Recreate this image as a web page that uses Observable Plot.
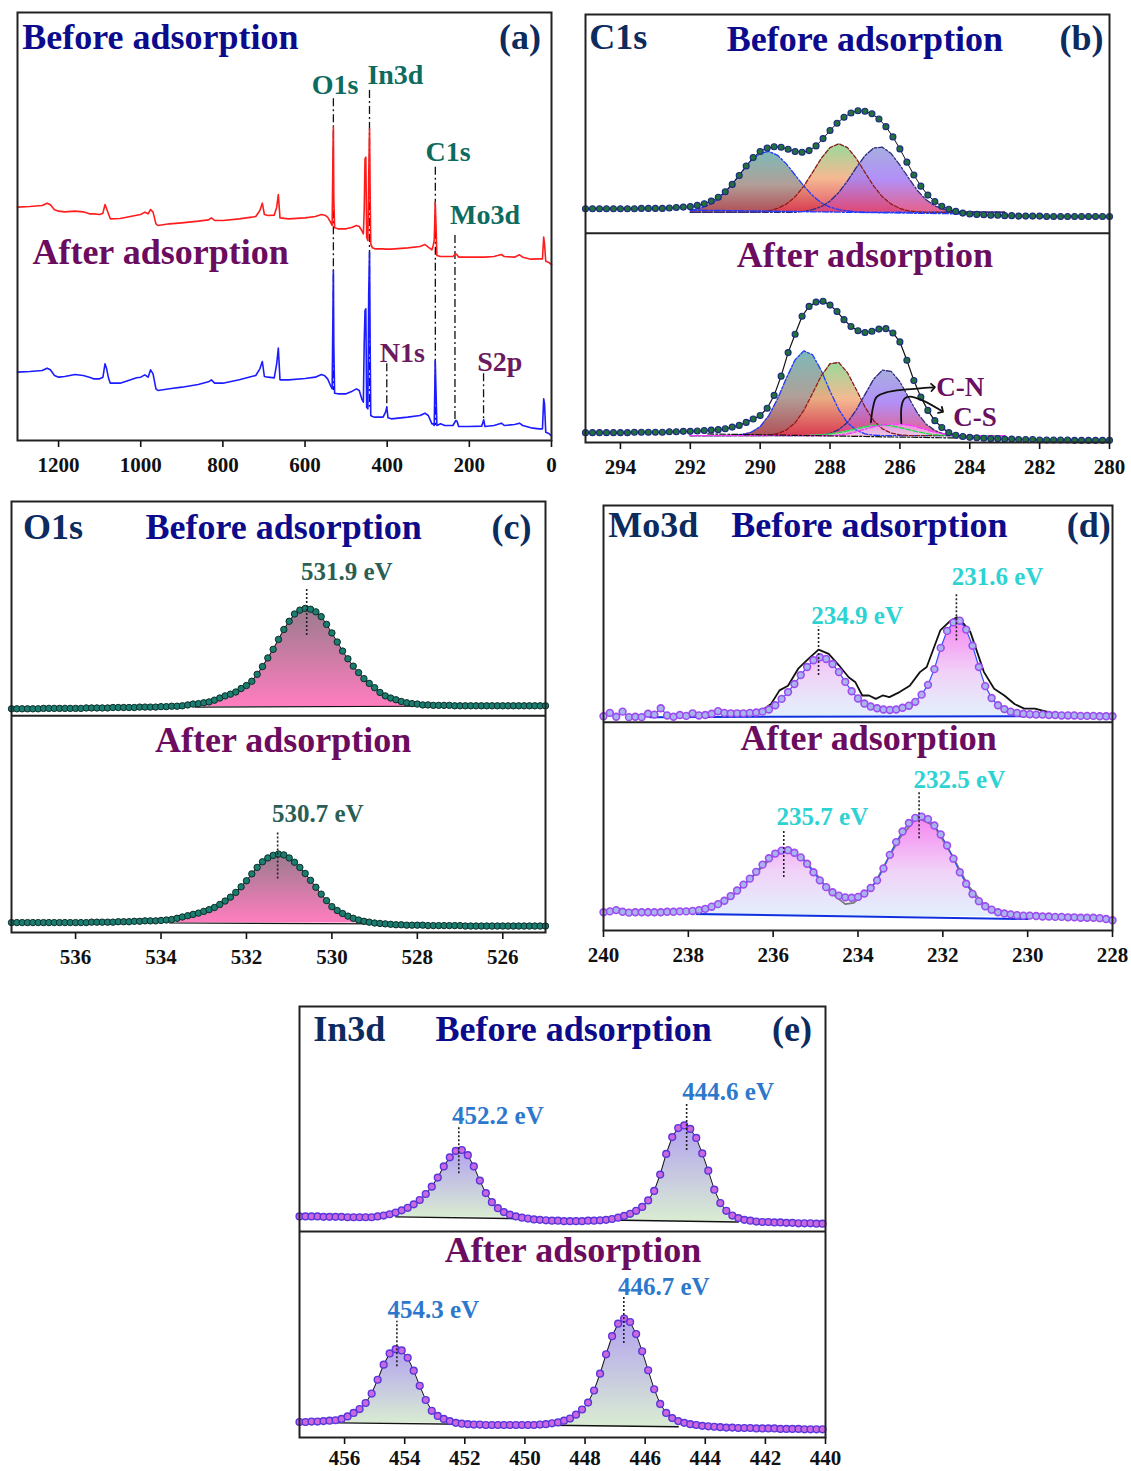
<!DOCTYPE html>
<html>
<head>
<meta charset="utf-8">
<script src="https://cdn.jsdelivr.net/npm/d3@7"></script>
<script src="https://cdn.jsdelivr.net/npm/@observablehq/plot@0.6"></script>
<style>
  html, body { margin: 0; padding: 0; background: #fff; }
  #page { position: relative; width: 1131px; height: 1471px; background: #fff; overflow: hidden; }
  #page svg { position: absolute; overflow: visible; }
</style>
</head>
<body>
<div id="page"></div>
<script>
// ================= DATA =================
// ---- (a) survey spectra (binding energy eV, intensity a.u.) ----
const surveyEV = [1300,1270,1240,1228,1220,1210,1200,1185,1160,1140,
  1125,1115,1100,1092,1087,1083,1078,1074,1050,1010,
  1000,990,982,976,970,963,958,930,900,860,
  835,828,820,800,760,730,720,710,704,699,
  690,675,669,665,661,640,600,575,560,552,
  545,538,534,532,531,530,528,520,500,485,
  475,468,462,458,456,454,452,450,447,445,
  443,441.5,440,436,430,410,404,401,398,390,
  350,320,308,300,291,288,285.5,283,281,279,
  270,260,240,233,230,226,200,170,165,162,
  140,122,115,90,78,70,50,30,22,19,
  17,14,8,0];
const surveyBefore = [70.0,70.2,70.5,71.2,70.7,69.2,68.8,68.6,68.8,68.6,
  68.0,68.0,67.8,68.2,70.8,69.5,67.8,66.5,66.6,67.6,
  67.8,68.5,68.0,69.3,68.5,65.0,64.5,65.0,65.3,65.8,
  66.2,66.8,66.0,66.0,66.5,67.0,67.2,69.0,71.2,67.8,
  67.5,67.6,70.0,73.8,66.8,66.5,66.8,67.2,67.8,67.6,
  67.0,65.5,64.5,87.0,94.0,73.0,63.8,63.5,63.5,64.0,
  64.5,64.2,63.0,62.0,69.0,84.5,85.0,61.0,60.0,79.0,
  93.5,74.0,59.0,57.8,57.5,57.5,57.4,57.4,57.4,57.4,
  57.8,58.2,58.8,58.0,57.2,58.5,60.0,71.5,64.0,55.5,
  55.2,55.2,55.2,56.0,55.7,55.0,55.0,55.0,55.0,55.0,
  55.2,55.8,55.2,55.0,55.7,55.0,54.4,54.5,54.5,61.0,
  59.0,53.8,53.5,52.8];
const surveyAfter = [20.5,20.7,21.0,21.7,21.2,19.5,19.0,19.2,19.8,19.5,
  19.0,18.5,18.5,19.0,23.0,21.5,18.5,17.2,17.2,18.8,
  19.0,19.7,19.0,21.2,20.0,15.5,15.0,15.5,16.0,16.8,
  17.6,18.2,17.2,17.2,18.2,19.2,19.5,21.5,23.7,19.2,
  19.0,18.8,23.0,27.7,18.2,18.2,18.6,19.0,19.8,19.4,
  18.5,16.5,15.5,39.0,51.0,29.0,14.2,14.0,14.0,14.8,
  15.5,15.0,12.5,11.5,29.0,39.0,39.5,10.0,9.5,44.0,
  56.5,29.0,7.5,7.2,7.0,7.0,8.5,10.0,6.8,6.5,
  7.0,7.5,8.2,7.5,5.0,5.0,4.5,24.0,14.0,4.5,
  5.0,4.5,4.5,6.0,5.8,4.2,4.2,4.3,6.2,4.2,
  4.5,5.2,4.5,4.8,5.2,4.5,3.8,3.5,3.5,12.5,
  11.0,2.5,2.2,1.4];
const surveyPeakEV = [531, 443.1, 282.8, 235, 401, 165.4];
const surveyPeakTop = [102.5, 105, 82, 61.5, 23, 20];
const surveyPeakBottom = [15, 10, 4.5, 6, 9.5, 5];
const surveyLabelsTeal = ["O1s", "In3d", "C1s", "Mo3d"];
const surveyLabelsTealEV = [527, 380, 251.8, 162];
const surveyLabelsTealI = [106.5, 109.7, 86.4, 67.5];
const surveyLabelsPurple = ["N1s", "S2p"];
const surveyLabelsPurpleEV = [363, 126];
const surveyLabelsPurpleI = [26.1, 23.5];

// ---- (b) C1s: measured points every 0.2 eV from 295 eV ----
const c1sBefore = [54.6,54.6,54.6,54.6,54.6,54.6,54.6,54.6,54.7,54.7,
  54.7,54.7,54.8,54.9,55.0,55.1,55.4,55.8,56.4,57.3,
  58.6,60.3,62.4,64.6,66.6,68.0,68.8,69.1,69.0,68.5,
  68.0,67.8,68.2,69.3,71.0,72.9,74.6,76.0,77.0,77.5,
  77.4,76.8,75.6,73.8,71.4,68.6,65.5,62.5,59.9,57.8,
  56.3,55.2,54.5,54.0,53.6,53.4,53.3,53.2,53.1,53.1,
  53.0,53.0,52.9,52.9,52.9,52.9,52.8,52.8,52.8,52.8,
  52.8,52.8,52.8,52.8,52.8,52.8];
const c1sAfter = [2.3,2.3,2.3,2.3,2.3,2.3,2.3,2.4,2.4,2.4,
  2.4,2.4,2.5,2.5,2.6,2.6,2.7,2.8,2.9,3.0,
  3.2,3.6,4.0,4.7,5.5,6.3,8.0,11.0,15.5,21.0,
  25.3,29.5,31.8,32.8,33.0,32.1,30.6,28.7,27.1,26.1,
  25.7,26.0,26.5,26.6,25.6,23.5,19.2,14.5,10.6,7.5,
  5.1,3.5,2.3,1.7,1.4,1.2,1.1,1.0,0.9,0.9,
  0.8,0.8,0.7,0.7,0.7,0.6,0.6,0.6,0.6,0.6,
  0.5,0.5,0.5,0.5,0.5,0.5];
// fitted components every 0.25 eV from 292 eV
const c1sBeforeBase = 53.8;
const c1sBTeal = [54.2,54.6,55.4,56.6,58.5,60.9,63.5,66.0,67.6,68.0,
  67.1,65.1,62.5,59.9,57.7,56.0,55.0,54.4,54.1,53.9,
  53.8,53.8,53.8,53.8,53.8,53.8,53.8,53.8,53.8,53.8,
  53.8,53.8,53.8,53.8,53.8,53.8,53.8];
const c1sBGreen = [53.8,53.8,53.8,53.8,53.8,53.8,53.8,53.8,53.9,54.1,
  54.7,55.7,57.4,59.9,63.1,66.4,68.9,69.8,68.9,66.4,
  63.1,59.9,57.4,55.7,54.7,54.1,53.9,53.8,53.8,53.8,
  53.8,53.8,53.8,53.8,53.8,53.8,53.8];
const c1sBPurple = [53.8,53.8,53.8,53.8,53.8,53.8,53.8,53.8,53.8,53.8,
  53.8,53.8,53.8,54.0,54.4,55.1,56.4,58.4,61.1,64.2,
  67.0,68.8,69.0,67.5,64.8,61.8,58.9,56.7,55.3,54.5,
  54.1,53.9,53.8,53.8,53.8,53.8,53.8];
const c1sAfterBase = 1.6;
const c1sATeal = [1.6,1.6,1.6,1.6,1.6,1.7,1.9,2.4,3.7,6.3,
  10.2,15.0,19.3,21.4,20.5,16.8,12.0,7.7,4.6,2.9,
  2.0,1.7,1.6,1.6,1.6,1.6,1.6,1.6,1.6,1.6,
  1.6,1.6,1.6,1.6,1.6,1.6,1.6];
const c1sAGreen = [1.6,1.6,1.6,1.6,1.6,1.6,1.6,1.6,1.6,1.7,
  2.1,2.9,4.6,7.5,11.5,15.6,18.4,18.7,16.3,12.4,
  8.3,5.1,3.2,2.2,1.8,1.6,1.6,1.6,1.6,1.6,
  1.6,1.6,1.6,1.6,1.6,1.6,1.6];
const c1sAPurple = [1.6,1.6,1.6,1.6,1.6,1.6,1.6,1.6,1.6,1.6,
  1.6,1.6,1.6,1.6,1.6,1.7,2.1,3.0,4.7,7.6,
  11.2,14.8,16.9,16.6,14.2,10.5,6.9,4.3,2.8,2.0,
  1.7,1.6,1.6,1.6,1.6,1.6,1.6];
const c1sACN = [1.6,1.6,1.6,1.6,1.6,1.6,1.6,1.6,1.6,1.6,
  1.6,1.6,1.6,1.6,1.7,1.8,2.0,2.3,2.7,3.2,
  3.7,4.0,4.1,3.9,3.5,3.0,2.5,2.1,1.8,1.7,
  1.6,1.6,1.6,1.6,1.6,1.6,1.6];
const c1sACS = [1.6,1.6,1.6,1.6,1.6,1.6,1.6,1.6,1.6,1.6,
  1.6,1.6,1.6,1.6,1.6,1.6,1.6,1.7,2.0,2.5,
  3.1,3.7,4.1,4.3,4.3,4.1,3.6,3.0,2.4,2.0,
  1.7,1.6,1.6,1.6,1.6,1.6,1.6];
const c1sBgBeforeE = [292, 284], c1sBgBeforeI = [54.3, 53.4];
const c1sBgAfterE = [291.5, 284], c1sBgAfterI = [2.0, 1.0];
const cnArrowE = [286.83, 286.77, 286.67, 286.39, 285.81, 285.05];
const cnArrowI = [4.7, 8.2, 10.6, 11.7, 12.4, 12.9];
const csArrowE = [285.96, 285.95, 285.86, 285.72, 285.34, 284.81];
const csArrowI = [4.5, 8.6, 10.3, 10.7, 9.8, 7.4];
const bondLabels = ["C-N", "C-S"], bondLabelE = [284.27, 283.85], bondLabelI = [12.9, 5.9];

// ---- (c) O1s: points every 0.125 eV from 537.5 eV ----
const o1sBefore = [51.9,51.9,51.9,51.9,51.9,51.9,52.0,52.0,52.0,52.0,
  52.0,52.0,52.0,52.0,52.1,52.1,52.1,52.1,52.1,52.2,
  52.2,52.2,52.2,52.2,52.3,52.3,52.3,52.3,52.4,52.4,
  52.5,52.5,52.6,52.8,53.0,53.1,53.3,53.5,53.9,54.4,
  54.9,55.3,55.8,56.6,57.3,58.3,59.9,61.7,63.7,65.7,
  68.0,70.3,72.2,73.9,74.8,75.2,75.0,74.4,73.3,71.5,
  69.5,67.4,65.3,63.5,61.8,60.3,58.9,57.8,56.8,55.7,
  54.9,54.4,54.0,53.6,53.3,53.1,53.0,52.8,52.8,52.7,
  52.7,52.7,52.7,52.6,52.6,52.6,52.6,52.6,52.6,52.6,
  52.6,52.6,52.6,52.6,52.6,52.6,52.6,52.6,52.6,52.6,
  52.6];
const o1sAfter = [2.3,2.3,2.3,2.3,2.3,2.3,2.3,2.3,2.3,2.3,
  2.3,2.3,2.3,2.3,2.3,2.4,2.4,2.4,2.4,2.4,
  2.5,2.5,2.5,2.6,2.6,2.7,2.7,2.7,2.8,2.9,
  3.0,3.3,3.6,3.9,4.2,4.5,4.9,5.3,5.8,6.5,
  7.3,8.2,9.3,10.6,12.0,13.6,15.1,16.4,17.3,17.9,
  18.2,18.0,17.3,16.3,15.1,13.7,12.1,10.5,8.9,7.4,
  6.0,5.1,4.4,3.8,3.3,2.9,2.6,2.4,2.2,2.1,
  2.0,1.9,1.8,1.8,1.7,1.7,1.7,1.7,1.6,1.6,
  1.6,1.6,1.6,1.6,1.6,1.5,1.5,1.5,1.5,1.5,
  1.5,1.5,1.5,1.5,1.5,1.5,1.5,1.5,1.5,1.5,
  1.5];
const o1sBaseBeforeE = [533.2, 528.0], o1sBaseBeforeI = [52.3, 52.5];
const o1sBaseAfterE = [533.8, 528.8], o1sBaseAfterI = [2.2, 2.0];
const o1sLabels = ["531.9 eV", "530.7 eV"], o1sLabelE = [529.65, 530.33], o1sLabelI = [83.6, 27.5];
const o1sPeakE = [530.59, 531.27], o1sPeakLo = [68.9, 12.4], o1sPeakHi = [79.9, 23.2];

// ---- (d) Mo3d: points every 0.15 eV from 240 eV ----
const moBefore = [50.4,51.2,50.3,51.5,50.2,50.3,50.2,51.0,50.8,52.3,
  50.6,50.3,50.7,50.5,51.1,50.6,50.7,51.0,51.6,51.2,
  51.1,51.1,51.1,51.2,51.3,51.5,52.0,53.0,54.5,56.1,
  58.0,60.1,62.0,63.6,64.3,63.9,62.7,60.8,58.5,56.3,
  54.6,53.4,52.7,52.3,52.0,51.9,52.0,52.4,52.9,53.8,
  55.5,57.8,61.5,66.5,70.5,72.5,72.9,70.8,67.0,62.0,
  57.5,54.7,53.0,52.1,51.5,51.2,51.0,50.9,50.8,50.8,
  50.7,50.7,50.6,50.6,50.6,50.5,50.5,50.5,50.4,50.4,50.4];
const moAfter = [4.3,4.5,4.8,4.4,4.2,4.3,4.3,4.3,4.3,4.3,
  4.4,4.4,4.5,4.5,4.6,4.8,5.1,5.6,6.2,7.0,
  8.1,9.4,10.8,12.2,13.8,15.5,17.0,18.1,18.8,18.9,
  18.3,17.2,15.7,13.7,11.8,10.2,9.0,8.2,7.8,7.7,
  7.9,8.7,10.0,11.8,14.6,17.8,20.8,23.3,25.3,26.5,
  26.8,26.2,24.7,22.6,20.0,16.9,13.7,11.0,8.6,6.9,
  5.7,4.9,4.3,4.0,3.8,3.6,3.5,3.5,3.4,3.3,
  3.3,3.2,3.2,3.1,3.1,3.0,3.0,3.0,2.9,2.7,2.4];
const moRawBeforeE = [236.5,236.21,236.05,235.85,235.65,235.41,235.17,234.93,234.69,234.45,
  234.22,234.06,233.90,233.74,233.58,233.42,233.26,233.02,232.78,232.54,
  232.38,232.22,232.06,231.82,231.67,231.51,231.35,231.19,231.03,230.79,
  230.55,230.31,230.08,229.83,229.60,229.35];
const moRawBeforeI = [51.5,52.2,53.3,56.5,57.6,61.6,63.9,66.1,65.1,62.4,
  59.6,58.4,55.3,55.3,54.5,55.3,54.9,56.1,57.6,60.8,
  62.0,66.3,70.6,72.9,73.7,72.2,70.2,65.5,60.8,56.9,
  55.3,53.3,52.2,52.2,51.6,51.0];
const moRawAfterE = [237.8,237.5,237.0,236.5,236.0,235.7,235.3,235.0,234.7,234.5,234.3,234.1,
  233.9,233.6,233.3,233.0,232.6,232.2,231.8,231.4,231.0,230.5,230.0];
const moRawAfterI = [4.2,5.0,7.8,12.5,17.5,18.8,17.0,13.5,9.5,7.8,6.2,6.5,
  8.2,11.2,16.8,22.0,26.6,24.6,18.0,10.5,5.8,4.0,3.4];
const moBaseBeforeE = [238.9, 228.0], moBaseBeforeI = [50.2, 50.5];
const moBaseAfterE = [237.8, 230.0], moBaseAfterI = [3.9, 2.7];
const moLabels = ["234.9 eV", "231.6 eV", "235.7 eV", "232.5 eV"];
const moLabelE = [234.02, 230.71, 234.84, 231.61], moLabelI = [74.1, 83.1, 26.7, 35.3];
const moPeakE = [234.93, 231.68, 235.75, 232.56], moPeakLo = [60.0, 68.2, 12.5, 21.6], moPeakHi = [71.4, 79.2, 23.5, 32.5];

// ---- (e) In3d: points every 0.2 eV from 457.5 eV ----
const inBefore = [51.3,51.3,51.3,51.3,51.2,51.2,51.2,51.2,51.1,51.1,
  51.1,51.1,51.1,51.3,51.5,51.8,52.2,52.7,53.3,54.1,
  55.1,56.5,58.2,60.3,62.9,65.0,66.5,66.7,65.5,62.9,
  59.6,56.7,54.6,53.2,52.3,51.7,51.3,51.0,50.8,50.6,
  50.5,50.4,50.3,50.3,50.2,50.2,50.2,50.2,50.3,50.3,
  50.4,50.5,50.7,51.0,51.4,51.9,52.6,53.5,55.0,57.2,
  61.0,65.8,69.7,71.8,72.4,71.6,69.5,65.9,61.9,57.5,
  54.4,52.6,51.5,50.9,50.5,50.3,50.1,50.0,50.0,49.9,
  49.9,49.8,49.8,49.7,49.7,49.7,49.6,49.6];
const inAfter = [3.6,3.6,3.7,3.7,3.8,3.9,4.0,4.3,4.9,5.7,
  6.6,8.0,10.2,13.4,16.9,19.5,20.5,20.2,18.5,15.5,
  12.0,8.7,6.2,5.0,4.3,3.8,3.4,3.2,3.1,3.0,
  3.0,2.9,2.9,2.9,2.9,2.9,2.9,2.9,2.9,2.9,
  3.0,3.1,3.3,3.5,3.9,4.4,5.3,6.5,8.1,10.9,
  14.8,19.3,23.5,26.4,27.6,26.8,24.0,20.0,15.6,11.2,
  7.8,5.7,4.5,3.8,3.4,3.1,2.9,2.7,2.6,2.5,
  2.4,2.3,2.3,2.2,2.2,2.2,2.1,2.1,2.1,2.1,
  2.0,2.0,2.0,2.0,1.9,1.9,1.9,1.9];
const inBaseBeforeE = [454.3, 442.9], inBaseBeforeI = [51.2, 50.0];
const inBaseAfterE = [456.2, 444.9], inBaseAfterI = [3.4, 2.5];
const inLabels = ["452.2 eV", "444.6 eV", "454.3 eV", "446.7 eV"];
const inLabelE = [450.9, 443.24, 453.05, 445.38], inLabelI = [74.7, 80.1, 29.5, 34.9];
const inPeakE = [452.2, 444.62, 454.26, 446.71], inPeakLo = [61.2, 66.6, 16.4, 21.8], inPeakHi = [72.2, 77.6, 27.0, 32.6];

// ================= HELPERS =================
const SERIF = "'Liberation Serif','Times New Roman',serif";
const C_BEFORE = "#0b0b8c", C_AFTER = "#6b0c5e", C_TAG = "#0c2b5e";
const series = (start, step, vals) => vals.map((v, i) => ({e: Math.round((start - i * step) * 1000) / 1000, v}));
const pairs = (es, vs) => es.map((e, i) => ({e, v: vs[i]}));
const inRange = (arr, lo, hi) => arr.filter(d => d.e >= lo && d.e <= hi);

function title(txt, e, i, fill, anchor = "middle", size = 36) {
  return Plot.text([txt], {x: [e], y: [i], text: d => d, fill, textAnchor: anchor, fontSize: size, fontWeight: "bold", fontFamily: SERIF});
}

function panel({left, top, w, h, xDomain, ticks, yDomain = [0, 100], marks, gradients = [], tickPadding = 10}) {
  const svg = Plot.plot({
    width: w + 40, height: h + 52,
    marginLeft: 20, marginRight: 20, marginTop: 4, marginBottom: 48,
    x: {domain: xDomain, ticks, tickSize: 7, tickPadding, label: null, tickFormat: d => String(d)},
    y: {domain: yDomain, axis: null},
    style: {fontFamily: SERIF, fontSize: "21px", fontWeight: "bold", color: "#111", background: "transparent", overflow: "visible"},
    marks
  });
  const defs = d3.select(svg).insert("defs", ":first-child");
  for (const g of gradients) {
    const lg = defs.append("linearGradient").attr("id", g.id).attr("x1", 0).attr("y1", 0).attr("x2", 0).attr("y2", 1);
    for (const [o, c, op] of g.stops) lg.append("stop").attr("offset", o).attr("stop-color", c).attr("stop-opacity", op ?? 1);
  }
  d3.select(svg).selectAll("[aria-label='x-axis tick'] path").attr("stroke-width", 1.6);
  svg.style.left = (left - 20) + "px";
  svg.style.top = (top - 4) + "px";
  document.getElementById("page").appendChild(svg);
}

const frame = () => Plot.frame({stroke: "#222", strokeWidth: 2});
const divider = v => Plot.ruleY([v], {stroke: "#222", strokeWidth: 2});

// ================= (a) =================
panel({
  left: 17, top: 12, w: 534, h: 428,
  xDomain: [1300, 0], ticks: [1200, 1000, 800, 600, 400, 200, 0], yDomain: [0, 128.4],
  marks: [
    Plot.ruleX(surveyPeakEV, {y1: surveyPeakTop, y2: surveyPeakBottom, stroke: "#111", strokeWidth: 1.3, strokeDasharray: "8,3,2,3"}),
    Plot.line(pairs(surveyEV, surveyBefore), {x: "e", y: "v", stroke: "#ff1c1c", strokeWidth: 1.6}),
    Plot.line(pairs(surveyEV, surveyAfter), {x: "e", y: "v", stroke: "#1c1cff", strokeWidth: 1.6}),
    Plot.text(surveyLabelsTeal, {x: surveyLabelsTealEV, y: surveyLabelsTealI, fill: "#0e6b60", fontSize: 28, fontWeight: "bold", fontFamily: SERIF}),
    Plot.text(surveyLabelsPurple, {x: surveyLabelsPurpleEV, y: surveyLabelsPurpleI, fill: "#6b1a60", fontSize: 28, fontWeight: "bold", fontFamily: SERIF}),
    title("Before adsorption", 1288.5, 120.9, C_BEFORE, "start"),
    title("(a)", 25.6, 120.9, C_TAG, "end"),
    title("After adsorption", 1263.7, 56.5, C_AFTER, "start"),
    frame()
  ]
});

// ================= (b) =================
{
  const cB = series(295, 0.2, c1sBefore), cA = series(295, 0.2, c1sAfter);
  const comp = a => series(292, 0.25, a);
  const area = (a, base, g) => Plot.areaY(comp(a), {x: "e", y1: base, y2: "v", fill: `url(#${g})`, fillOpacity: 0.85});
  const outline = (a, stroke, dash) => Plot.line(comp(a), {x: "e", y: "v", stroke, strokeWidth: 1.3, strokeDasharray: dash});
  panel({
    left: 585, top: 14, w: 524, h: 428,
    xDomain: [295, 280], ticks: [294, 292, 290, 288, 286, 284, 282, 280],
    gradients: [
      {id: "gTeal", stops: [[0, "#64aeac"], [0.55, "#a48e86"], [1, "#a3323a"]]},
      {id: "gGreen", stops: [[0, "#86d48a"], [0.5, "#f2ad7e"], [1, "#e03a52"]]},
      {id: "gPurple", stops: [[0, "#98a0da"], [0.5, "#a47cf6"], [1, "#e0467a"]]},
      {id: "gCN", stops: [[0, "#9fb4e0"], [1, "#c9d6c4"]]},
      {id: "gCS", stops: [[0, "#f08ce8"], [1, "#f3c6ea"]]}
    ],
    marks: [
      area(c1sBTeal, c1sBeforeBase, "gTeal"),
      area(c1sBGreen, c1sBeforeBase, "gGreen"),
      area(c1sBPurple, c1sBeforeBase, "gPurple"),
      outline(c1sBTeal, "#1f3cff", "6,2,2,2"),
      outline(c1sBGreen, "#8b1c1c", "4,2"),
      outline(c1sBPurple, "#2e2e7a", "6,2,2,2"),
      Plot.line(pairs(c1sBgBeforeE, c1sBgBeforeI), {x: "e", y: "v", stroke: "#1f3cff", strokeWidth: 1.4, strokeDasharray: "6,2,2,2"}),
      Plot.line(cB, {x: "e", y: "v", stroke: "#111", strokeWidth: 1}),
      Plot.dot(cB, {x: "e", y: "v", r: 3.0, fill: "#22703c", stroke: "#1c2b7e", strokeWidth: 1.1}),

      area(c1sATeal, c1sAfterBase, "gTeal"),
      area(c1sAGreen, c1sAfterBase, "gGreen"),
      area(c1sAPurple, c1sAfterBase, "gPurple"),
      area(c1sACN, c1sAfterBase, "gCN"),
      area(c1sACS, c1sAfterBase, "gCS"),
      outline(c1sATeal, "#1f3cff", "6,2,2,2"),
      outline(c1sAGreen, "#8b1c1c", "4,2"),
      outline(c1sAPurple, "#2e2e7a", "6,2,2,2"),
      outline(c1sACN, "#22dd44", "5,2"),
      outline(c1sACS, "#ff33ff", "6,2,2,2"),
      Plot.line(pairs(c1sBgAfterE, c1sBgAfterI), {x: "e", y: "v", stroke: "#111", strokeWidth: 1.2, strokeDasharray: "6,2,2,2"}),
      Plot.line(cA, {x: "e", y: "v", stroke: "#111", strokeWidth: 1.2}),
      Plot.dot(cA, {x: "e", y: "v", r: 3.0, fill: "#22703c", stroke: "#1c2b7e", strokeWidth: 1.1}),
      Plot.line(pairs(cnArrowE, cnArrowI), {x: "e", y: "v", curve: "catmull-rom", stroke: "#111", strokeWidth: 1.8, markerEnd: "arrow"}),
      Plot.line(pairs(csArrowE, csArrowI), {x: "e", y: "v", curve: "catmull-rom", stroke: "#111", strokeWidth: 1.8, markerEnd: "arrow"}),
      Plot.text(bondLabels, {x: bondLabelE, y: bondLabelI, fill: "#6b1060", fontSize: 27, fontWeight: "bold", fontFamily: SERIF}),

      title("C1s", 294.89, 94.6, C_TAG, "start"),
      title("Before adsorption", 287.0, 94.2, C_BEFORE),
      title("(b)", 280.17, 94.4, C_TAG, "end"),
      title("After adsorption", 287.0, 43.7, C_AFTER),
      divider(48.9),
      frame()
    ]
  });
}

// ================= (c) =================
{
  const oB = series(537.5, 0.125, o1sBefore), oA = series(537.5, 0.125, o1sAfter);
  panel({
    left: 11, top: 501, w: 534, h: 431,
    xDomain: [537.5, 525], ticks: [536, 534, 532, 530, 528, 526],
    gradients: [{id: "gO", stops: [[0, "#9a7b8d"], [1, "#ff7dbf"]]}],
    marks: [
      Plot.areaY(inRange(oB, 528.1, 533.1), {x: "e", y1: 52.4, y2: "v", fill: "url(#gO)"}),
      Plot.areaY(inRange(oA, 529.0, 533.7), {x: "e", y1: 2.2, y2: "v", fill: "url(#gO)"}),
      Plot.line(pairs(o1sBaseBeforeE, o1sBaseBeforeI), {x: "e", y: "v", stroke: "#111", strokeWidth: 1.2}),
      Plot.line(pairs(o1sBaseAfterE, o1sBaseAfterI), {x: "e", y: "v", stroke: "#111", strokeWidth: 1.2}),
      Plot.line(oB, {x: "e", y: "v", stroke: "#111", strokeWidth: 1}),
      Plot.line(oA, {x: "e", y: "v", stroke: "#111", strokeWidth: 1}),
      Plot.dot(oB, {x: "e", y: "v", r: 3.2, fill: "#1b7d70", stroke: "#0b2d28", strokeWidth: 1}),
      Plot.dot(oA, {x: "e", y: "v", r: 3.2, fill: "#1b7d70", stroke: "#0b2d28", strokeWidth: 1}),
      Plot.ruleX(o1sPeakE, {y1: o1sPeakLo, y2: o1sPeakHi, stroke: "#222", strokeWidth: 1.6, strokeDasharray: "2,2"}),
      Plot.text(o1sLabels, {x: o1sLabelE, y: o1sLabelI, fill: "#2b5e54", fontSize: 25, fontWeight: "bold", fontFamily: SERIF}),
      title("O1s", 537.23, 94.0, C_TAG, "start"),
      title("Before adsorption", 531.13, 94.0, C_BEFORE),
      title("(c)", 525.33, 94.0, C_TAG, "end"),
      title("After adsorption", 531.14, 44.5, C_AFTER),
      divider(50.3),
      frame()
    ]
  });
}

// ================= (d) =================
{
  const mB = series(240, 0.15, moBefore), mA = series(240, 0.15, moAfter);
  panel({
    left: 603, top: 505, w: 509, h: 425,
    xDomain: [240, 228], ticks: [240, 238, 236, 234, 232, 230, 228],
    gradients: [{id: "gMo", stops: [[0, "#f684f0"], [0.55, "#f1d2f8"], [1, "#e2f0fc"]]}],
    marks: [
      Plot.areaY(inRange(mB, 230.2, 236.8), {x: "e", y1: 50.4, y2: "v", fill: "url(#gMo)"}),
      Plot.areaY(inRange(mA, 229.8, 237.9), {x: "e", y1: 3.3, y2: "v", fill: "url(#gMo)"}),
      Plot.line(pairs(moBaseBeforeE, moBaseBeforeI), {x: "e", y: "v", stroke: "#1030e0", strokeWidth: 2}),
      Plot.line(pairs(moBaseAfterE, moBaseAfterI), {x: "e", y: "v", stroke: "#1030e0", strokeWidth: 2}),
      Plot.line(pairs(moRawBeforeE, moRawBeforeI), {x: "e", y: "v", stroke: "#111", strokeWidth: 1.8}),
      Plot.line(pairs(moRawAfterE, moRawAfterI), {x: "e", y: "v", stroke: "#777", strokeWidth: 1.8}),
      Plot.line(mB, {x: "e", y: "v", stroke: "#3050ff", strokeWidth: 1.2}),
      Plot.line(mA, {x: "e", y: "v", stroke: "#3050ff", strokeWidth: 1.2}),
      Plot.dot(mB, {x: "e", y: "v", r: 3.4, fill: "#a9b4ee", stroke: "#9d4cf0", strokeWidth: 1.6}),
      Plot.dot(mA, {x: "e", y: "v", r: 3.4, fill: "#a9b4ee", stroke: "#9d4cf0", strokeWidth: 1.6}),
      Plot.ruleX(moPeakE, {y1: moPeakLo, y2: moPeakHi, stroke: "#222", strokeWidth: 1.6, strokeDasharray: "2,2"}),
      Plot.text(moLabels, {x: moLabelE, y: moLabelI, fill: "#2dd3d3", fontSize: 25, fontWeight: "bold", fontFamily: SERIF}),
      title("Mo3d", 239.89, 95.3, C_TAG, "start"),
      title("Before adsorption", 233.73, 95.3, C_BEFORE),
      title("(d)", 228.04, 95.3, C_TAG, "end"),
      title("After adsorption", 233.75, 45.3, C_AFTER),
      divider(49.0),
      frame()
    ]
  });
}

// ================= (e) =================
{
  const iB = series(457.5, 0.2, inBefore), iA = series(457.5, 0.2, inAfter);
  const fills = [
    [iB, 450.2, 454.6, 51.1], [iB, 442.8, 447.2, 50.2],
    [iA, 452.0, 456.2, 3.3], [iA, 444.5, 449.0, 2.6]
  ];
  panel({
    left: 299, top: 1006, w: 526, h: 431,
    xDomain: [457.5, 440], ticks: [456, 454, 452, 450, 448, 446, 444, 442, 440],
    tickPadding: 6,
    gradients: [{id: "gIn", stops: [[0, "#b3a2f0"], [1, "#d9ecd2"]]}],
    marks: [
      ...fills.map(([s, lo, hi, base]) => Plot.areaY(inRange(s, lo, hi), {x: "e", y1: base, y2: "v", fill: "url(#gIn)"})),
      Plot.line(pairs(inBaseBeforeE, inBaseBeforeI), {x: "e", y: "v", stroke: "#111", strokeWidth: 1.4}),
      Plot.line(pairs(inBaseAfterE, inBaseAfterI), {x: "e", y: "v", stroke: "#111", strokeWidth: 1.4}),
      Plot.line(iB, {x: "e", y: "v", stroke: "#111", strokeWidth: 1}),
      Plot.line(iA, {x: "e", y: "v", stroke: "#111", strokeWidth: 1}),
      Plot.dot(iB, {x: "e", y: "v", r: 3.4, fill: "#cc68de", stroke: "#5836dc", strokeWidth: 1.4}),
      Plot.dot(iA, {x: "e", y: "v", r: 3.4, fill: "#cc68de", stroke: "#5836dc", strokeWidth: 1.4}),
      Plot.ruleX(inPeakE, {y1: inPeakLo, y2: inPeakHi, stroke: "#222", strokeWidth: 1.6, strokeDasharray: "2,2"}),
      Plot.text(inLabels, {x: inLabelE, y: inLabelI, fill: "#2e78cc", fontSize: 25, fontWeight: "bold", fontFamily: SERIF}),
      title("In3d", 457.04, 94.6, C_TAG, "start"),
      title("Before adsorption", 448.38, 94.6, C_BEFORE),
      title("(e)", 440.45, 94.6, C_TAG, "end"),
      title("After adsorption", 448.4, 43.3, C_AFTER),
      divider(47.8),
      frame()
    ]
  });
}
</script>
</body>
</html>
